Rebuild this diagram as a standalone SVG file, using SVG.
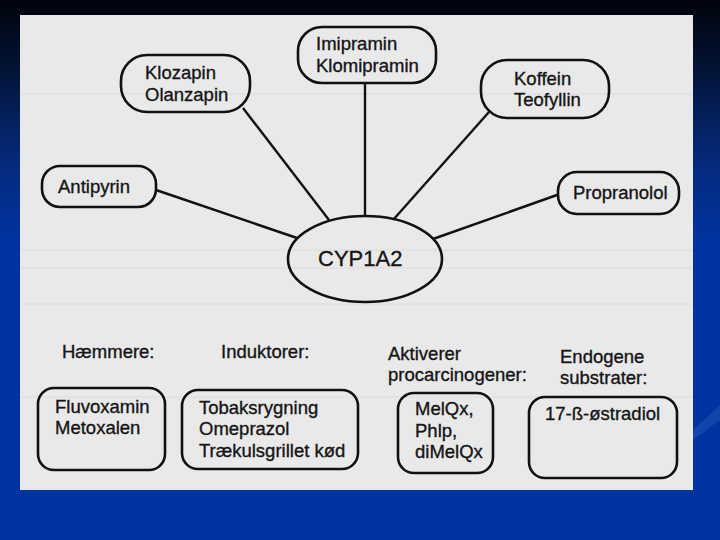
<svg xmlns="http://www.w3.org/2000/svg" width="720" height="540" viewBox="0 0 720 540">
  <defs>
    <linearGradient id="bg" x1="0" y1="0" x2="0" y2="1">
      <stop offset="0" stop-color="#01040c"/>
      <stop offset="0.12" stop-color="#031233"/>
      <stop offset="0.3" stop-color="#052a7c"/>
      <stop offset="0.45" stop-color="#0033a0"/>
      <stop offset="1" stop-color="#0033a0"/>
    </linearGradient>
    <style>
      .box { fill: none; stroke: #111; stroke-width: 2.6; }
      .edge { stroke: #111; stroke-width: 2.4; fill: none; }
      text { font-family: "Liberation Sans", Arial, sans-serif; font-size: 18.5px; fill: #151515; stroke: #151515; stroke-width: 0.35; }
      .big { font-size: 22px; }
    </style>
  </defs>

  <rect width="720" height="540" fill="url(#bg)"/>
  <path d="M693 430 L720 405 L720 420 L693 440 Z" fill="#1a4bb0" opacity="0.7"/>

  <!-- scanned paper -->
  <rect x="20" y="15" width="673" height="475" fill="#e9e9ea"/>
  <g stroke="#dcdcdc" stroke-width="1">
    <line x1="20" y1="94" x2="693" y2="94"/>
    <line x1="20" y1="250" x2="693" y2="250"/>
    <line x1="20" y1="268" x2="693" y2="268"/>
    <line x1="20" y1="304" x2="693" y2="304"/>
    <line x1="20" y1="397" x2="693" y2="397"/>
  </g>

  <!-- connectors -->
  <g id="connectors">
    <line class="edge" x1="156" y1="190" x2="297" y2="238"/>
    <line class="edge" x1="243" y1="108" x2="329" y2="220"/>
    <line class="edge" x1="365" y1="83" x2="365" y2="216"/>
    <line class="edge" x1="489" y1="112" x2="393" y2="220"/>
    <line class="edge" x1="557" y1="195" x2="433" y2="239"/>
  </g>

  <g id="cyp1a2">
    <ellipse class="box" cx="365" cy="259" rx="77" ry="43"/>
    <text class="big" x="318" y="266">CYP1A2</text>
  </g>

  <g id="antipyrin">
    <rect class="box" x="42" y="166" width="114" height="41" rx="18"/>
    <text x="58" y="193">Antipyrin</text>
  </g>

  <g id="klozapin">
    <rect class="box" x="121" y="55" width="129" height="57" rx="26"/>
    <text x="145" y="79">Klozapin</text>
    <text x="145" y="101">Olanzapin</text>
  </g>

  <g id="imipramin">
    <rect class="box" x="298" y="27" width="138" height="56" rx="24"/>
    <text x="316" y="50">Imipramin</text>
    <text x="316" y="72">Klomipramin</text>
  </g>

  <g id="koffein">
    <rect class="box" x="481" y="60" width="128" height="58" rx="26"/>
    <text x="514" y="85">Koffein</text>
    <text x="514" y="106">Teofyllin</text>
  </g>

  <g id="propranolol">
    <rect class="box" x="558" y="172" width="121" height="42" rx="19"/>
    <text x="573" y="199">Propranolol</text>
  </g>

  <!-- bottom categories -->
  <g id="haemmere">
    <text x="62" y="358">Hæmmere:</text>
    <rect class="box" x="38" y="388" width="127" height="82" rx="16"/>
    <text x="55" y="413">Fluvoxamin</text>
    <text x="55" y="434">Metoxalen</text>
  </g>

  <g id="induktorer">
    <text x="221" y="358">Induktorer:</text>
    <rect class="box" x="182" y="390" width="176" height="79" rx="16"/>
    <text x="199" y="414">Tobaksrygning</text>
    <text x="199" y="435">Omeprazol</text>
    <text x="199" y="457">Trækulsgrillet kød</text>
  </g>

  <g id="aktiverer">
    <text x="388" y="360">Aktiverer</text>
    <text x="388" y="381">procarcinogener:</text>
    <rect class="box" x="398" y="393" width="95" height="80" rx="16"/>
    <text x="415" y="415">MelQx,</text>
    <text x="415" y="437">Phlp,</text>
    <text x="415" y="458">diMelQx</text>
  </g>

  <g id="endogene">
    <text x="560" y="363">Endogene</text>
    <text x="560" y="384">substrater:</text>
    <rect class="box" x="529" y="397" width="148" height="81" rx="16"/>
    <text x="545" y="420">17-ß-østradiol</text>
  </g>
</svg>
